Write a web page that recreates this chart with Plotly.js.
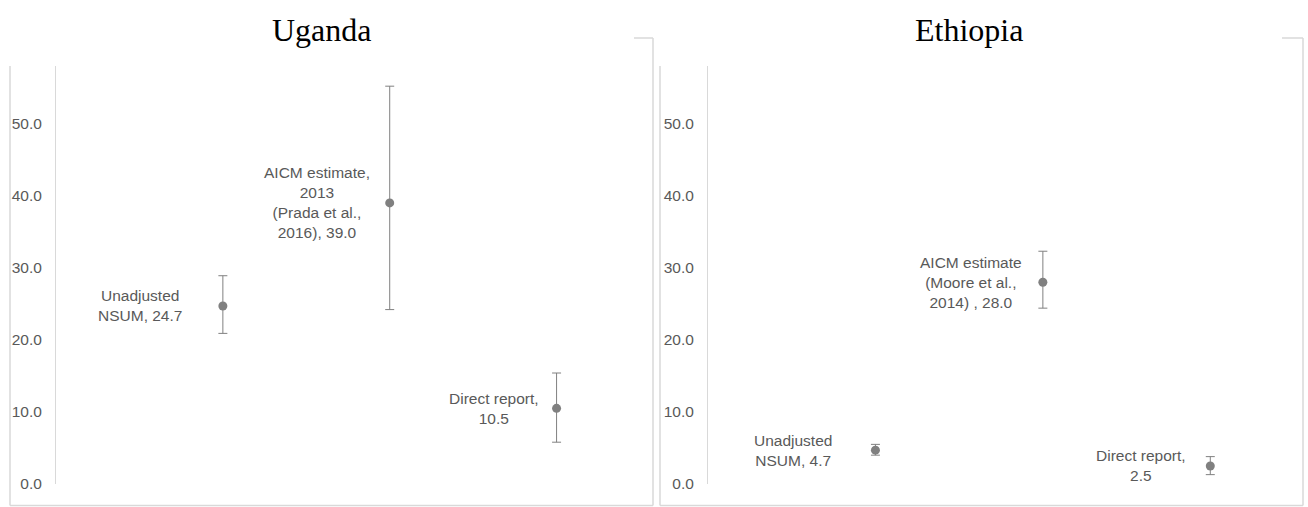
<!DOCTYPE html>
<html>
<head>
<meta charset="utf-8">
<script src="https://cdn.plot.ly/plotly-3.0.1.min.js"></script>
<style>
  html, body { margin: 0; padding: 0; background: #ffffff; }
  #chart { width: 1308px; height: 507px; }
</style>
</head>
<body>
<div id="chart"></div>
<script>
// ---- data ----
const panelTitles = ["Uganda", "Ethiopia"];
const categoryX = [1, 2, 3];

const ugandaLabels = ["Unadjusted<br>NSUM, 24.7", "AICM estimate,<br>2013<br>(Prada et al.,<br>2016), 39.0", "Direct report,<br>10.5"];
const ugandaValues = [24.7, 39.0, 10.5];
const ugandaUpper  = [28.9, 55.2, 15.4];
const ugandaLower  = [20.9, 24.2, 5.8];

const ethiopiaLabels = ["Unadjusted<br>NSUM, 4.7", "AICM estimate<br>(Moore et al.,<br>2014) , 28.0", "Direct report,<br>2.5"];
const ethiopiaValues = [4.7, 28.0, 2.5];
const ethiopiaUpper  = [5.5, 32.3, 3.8];
const ethiopiaLower  = [4.0, 24.4, 1.3];

const yTickVals = [0, 10, 20, 30, 40, 50];

// ---- layout helpers ----
const W = 1308, H = 507;
const px = v => v / W;
const py = v => 1 - v / H;

const labelFont = { family: "Liberation Sans Narrow, Arial Narrow, Liberation Sans, Arial, sans-serif", size: 15.5, color: "#595959" };
const pointColor = "#808080";
const frameColor = "#d9d9d9";

function trace(values, upper, lower, xa, ya) {
  return {
    type: "scatter", mode: "markers",
    x: categoryX, y: values,
    xaxis: xa, yaxis: ya,
    marker: { color: pointColor, size: 9 },
    error_y: {
      type: "data", symmetric: false,
      array: upper.map((u, i) => u - values[i]),
      arrayminus: lower.map((l, i) => values[i] - l),
      color: pointColor, thickness: 1, width: 4.5
    },
    hoverinfo: "skip", showlegend: false
  };
}

const data = [
  trace(ugandaValues, ugandaUpper, ugandaLower, "x", "y"),
  trace(ethiopiaValues, ethiopiaUpper, ethiopiaLower, "x2", "y2")
];

const ugandaShift = [-83, -73, -63];
const ethiopiaShift = [-82, -72, -69];

const annotations = [];
ugandaLabels.forEach((t, i) => annotations.push({
  xref: "x", yref: "y", x: categoryX[i], y: ugandaValues[i], text: t,
  showarrow: false, xanchor: "center", yanchor: "middle", align: "center",
  xshift: ugandaShift[i], font: labelFont
}));
ethiopiaLabels.forEach((t, i) => annotations.push({
  xref: "x2", yref: "y2", x: categoryX[i], y: ethiopiaValues[i], text: t,
  showarrow: false, xanchor: "center", yanchor: "middle", align: "center",
  xshift: ethiopiaShift[i], font: labelFont
}));
const titleCenters = [321.5, 969];
panelTitles.forEach((t, i) => annotations.push({
  xref: "paper", yref: "paper", x: px(titleCenters[i]), y: py(30),
  text: t, showarrow: false, xanchor: "center", yanchor: "middle",
  font: { family: "Liberation Serif, Times New Roman, serif", size: 32, color: "#000000" }
}));

function seg(x0, y0, x1, y1) {
  return { type: "line", xref: "paper", yref: "paper",
    x0: px(x0), y0: py(y0), x1: px(x1), y1: py(y1),
    line: { color: frameColor, width: 1.5 } };
}
const shapes = [
  seg(10, 66, 10, 505.5), seg(10, 505.5, 653, 505.5), seg(653, 38, 653, 505.5), seg(634, 38, 653, 38),
  seg(660, 66, 660, 505.5), seg(660, 505.5, 1303, 505.5), seg(1303, 38, 1303, 505.5), seg(1282, 38, 1303, 38)
];

function yAxis(anchor) {
  return {
    anchor: anchor, domain: [py(484), py(66)], range: [0, 58],
    tickvals: yTickVals, tickformat: ".1f", ticks: "",
    showline: true, linecolor: frameColor, linewidth: 1,
    showgrid: false, zeroline: false, ticklabelstandoff: 10,
    tickfont: labelFont, fixedrange: true
  };
}
function xAxis(anchor, d0, d1) {
  return {
    anchor: anchor, domain: [px(d0), px(d1)], range: [0, 3.5],
    showline: false, showgrid: false, zeroline: false, showticklabels: false,
    ticks: "", fixedrange: true
  };
}

const layout = {
  width: W, height: H, autosize: false,
  margin: { l: 0, r: 0, t: 0, b: 0, pad: 0 },
  paper_bgcolor: "#ffffff", plot_bgcolor: "rgba(0,0,0,0)",
  xaxis: xAxis("y", 56, 640),
  yaxis: yAxis("x"),
  xaxis2: xAxis("y2", 708, 1294),
  yaxis2: yAxis("x2"),
  annotations: annotations,
  shapes: shapes,
  showlegend: false
};

Plotly.newPlot("chart", data, layout, { staticPlot: true, displayModeBar: false });
</script>
</body>
</html>
